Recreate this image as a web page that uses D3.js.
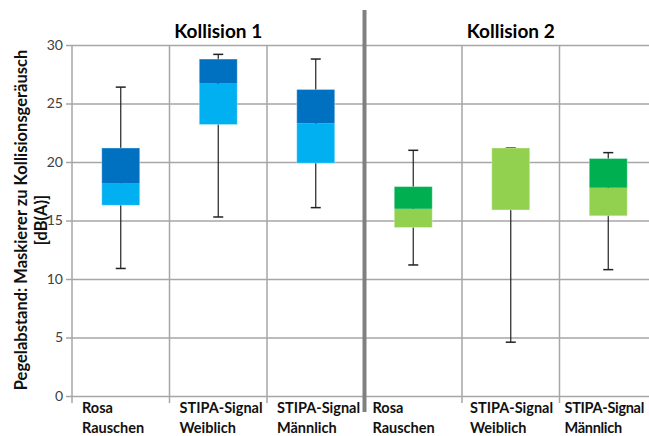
<!DOCTYPE html>
<html><head><meta charset="utf-8">
<script src="https://cdn.jsdelivr.net/npm/d3@7"></script>
<style>body{margin:0;background:#fff}svg{display:block;font-family:Lato,"Open Sans",sans-serif}</style>
</head><body><svg id="c" width="649" height="436"></svg>
<script>
const categories = ["Rosa|Rauschen","STIPA-Signal|Weiblich","STIPA-Signal|Männlich","Rosa|Rauschen","STIPA-Signal|Weiblich","STIPA-Signal|Männlich"];
const groups = ["Kollision 1","Kollision 1","Kollision 1","Kollision 2","Kollision 2","Kollision 2"];
const groupTitles = ["Kollision 1","Kollision 2"];
const whiskerHigh = [26.4, 29.2, 28.8, 21.0, 21.2, 20.8];
const q3 =          [21.2, 28.8, 26.2, 17.9, 21.2, 20.3];
const median =      [18.2, 26.7, 23.3, 16.0, 21.2, 17.8];
const q1 =          [16.3, 23.2, 19.9, 14.4, 15.9, 15.4];
const whiskerLow =  [10.9, 15.3, 16.1, 11.2, 4.6, 10.8];
const yTicks = [0,5,10,15,20,25,30];
const colorsDark = {"Kollision 1":"#0070C0","Kollision 2":"#00B050"};
const colorsLight = {"Kollision 1":"#00B0F0","Kollision 2":"#92D050"};

const svg = d3.select("#c");
const pL = 72, pR = 657, pT = 45, pB = 396;
const x = d3.scaleBand().domain(d3.range(categories.length)).range([pL, pR]).padding(0);
const y = d3.scaleLinear().domain([0,30]).range([pB, pT]);
const bw = x.bandwidth();
const boxW = 38;

// horizontal gridlines + ticks
const yAxis = d3.axisLeft(y).tickValues(yTicks).tickSize(-(pR-pL)).tickPadding(9);
const ga = svg.append("g").attr("transform",`translate(${pL},0)`).call(yAxis);
ga.select(".domain").remove();
ga.selectAll(".tick line").attr("stroke","#a6a6a6").attr("stroke-width",1.5).attr("x1",-6).attr("x2",pR-pL);
ga.selectAll(".tick text").attr("font-size",14).attr("fill","#404040").attr("font-family","Lato,sans-serif");

// vertical gridlines
const vlines = d3.range(categories.length+1).map(i => i < categories.length ? x(i) : pR);
svg.append("g").selectAll("line").data(vlines).join("line")
  .attr("x1",d=>d).attr("x2",d=>d).attr("y1",pT).attr("y2",pB+7)
  .attr("stroke","#a6a6a6").attr("stroke-width",1.5);

// separator
svg.append("line").attr("x1",x(3)).attr("x2",x(3)).attr("y1",10).attr("y2",412)
  .attr("stroke","#808080").attr("stroke-width",4);

// boxes
const g = svg.append("g");
categories.forEach((c,i)=>{
  const cx = x(i) + bw/2;
  const grp = groups[i];
  g.append("line").attr("x1",cx).attr("x2",cx).attr("y1",y(whiskerHigh[i])).attr("y2",y(whiskerLow[i]))
    .attr("stroke","#222").attr("stroke-width",1.2);
  [whiskerHigh[i], whiskerLow[i]].forEach(v=>{
    g.append("line").attr("x1",cx-5).attr("x2",cx+5).attr("y1",y(v)).attr("y2",y(v))
      .attr("stroke","#222").attr("stroke-width",1.5);
  });
  g.append("rect").attr("x",cx-boxW/2).attr("width",boxW).attr("y",y(median[i])).attr("height",y(q1[i])-y(median[i]))
    .attr("fill",colorsLight[grp]);
  g.append("rect").attr("x",cx-boxW/2).attr("width",boxW).attr("y",y(q3[i])).attr("height",y(median[i])-y(q3[i]))
    .attr("fill",colorsDark[grp]);
  g.append("rect").attr("x",cx-boxW/2).attr("width",boxW).attr("y",y(q3[i])).attr("height",y(q1[i])-y(q3[i]))
    .attr("fill","none").attr("stroke","#ffffff").attr("stroke-opacity",0.35).attr("stroke-width",1);
});

// x labels
const labelOffset = [10,10,10,8,8,5];
categories.forEach((c,i)=>{
  const parts = c.split("|");
  const lx = x(i) + labelOffset[i];
  const t = svg.append("text").attr("x",lx).attr("y",413)
    .attr("font-size",14.5).attr("font-weight","bold").attr("fill","#111");
  if (i === categories.length-1) t.attr("letter-spacing",-0.3);
  parts.forEach((p,k)=>t.append("tspan").attr("x",lx).attr("dy",k?20:0).text(p));
});

// group titles
groupTitles.forEach((tt,k)=>{
  const x0 = x(k*3), x1 = k*3+3 < categories.length ? x(k*3+3) : pR;
  svg.append("text").attr("x",(x0+x1)/2).attr("y",38).attr("text-anchor","middle")
    .attr("font-size",19).attr("font-weight","bold").attr("fill","#000").text(tt);
});

// y title
const yt = svg.append("text").attr("transform",`translate(0,220) rotate(-90)`)
  .attr("text-anchor","middle").attr("font-size",16.5).attr("font-weight","bold").attr("fill","#111");
yt.append("tspan").attr("x",0).attr("y",27).text("Pegelabstand: Maskierer zu Kollisionsgeräusch");
yt.append("tspan").attr("x",0).attr("y",47).text("[dB(A)]");
</script></body></html>
